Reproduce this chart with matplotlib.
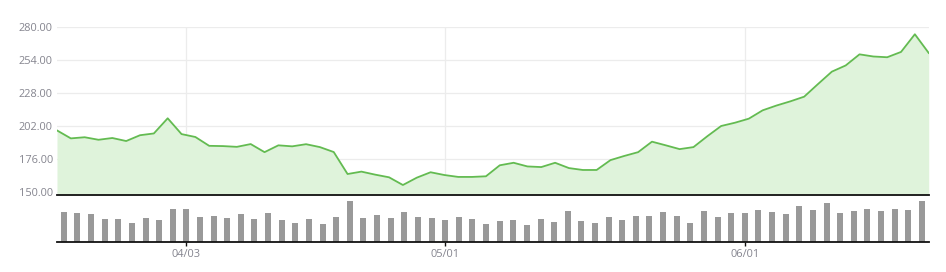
import numpy as np
import matplotlib
matplotlib.use("Agg")
import matplotlib.pyplot as plt
from matplotlib.ticker import FormatStrFormatter

# ---------------------------------------------------------
# DATA
# ---------------------------------------------------------

price = [198.4, 192.1, 193.0, 191.0, 192.4, 190.0, 194.6, 196.0, 208.0, 195.5,
         193.2, 186.2, 186.0, 185.4, 187.6, 181.2, 186.6, 185.8, 187.5, 185.2,
         181.3, 163.9, 165.8, 163.4, 161.3, 155.2, 161.0, 165.3, 163.1, 161.6,
         161.6, 162.1, 170.8, 172.8, 169.9, 169.4, 172.8, 168.6, 167.1, 167.1,
         174.9, 178.2, 181.2, 189.5, 186.6, 183.6, 185.2, 193.8, 201.9, 204.5,
         207.7, 214.3, 218.1, 221.4, 225.1, 235.1, 244.9, 249.8, 258.6, 256.9,
         256.3, 260.5, 274.5, 259.7]

volume = [30.1, 29.5, 28.1, 23.3, 23.6, 19.5, 24.6, 22.0, 33.3, 33.3,
          25.3, 26.3, 24.6, 28.3, 23.3, 29.3, 22.6, 19.3, 23.3, 18.3,
          25.3, 41.3, 24.6, 27.3, 24.6, 30.0, 25.3, 24.6, 22.0, 25.6,
          23.6, 18.6, 21.6, 22.6, 17.6, 23.6, 20.6, 31.3, 21.6, 19.6,
          25.0, 22.0, 26.8, 26.3, 30.5, 26.6, 19.5, 31.6, 25.3, 29.5,
          29.5, 32.3, 30.1, 28.6, 36.3, 32.3, 39.3, 29.5, 31.6, 33.3,
          31.3, 33.3, 32.3, 41.3]

tick_index = [9, 28, 50]
tick_labels = ["04/03", "05/01", "06/01"]

y_ticks = [150, 176, 202, 228, 254, 280]

# ---------------------------------------------------------
# STYLE
# ---------------------------------------------------------

W, H = 946, 272
LEFT, RIGHT = 57, 928.7
LINE_C = "#63bb51"
FILL_C = "#dff3db"
BAR_C = "#999999"
GRID_C = "#ececec"
TEXT_C = "#85858f"
FS = 11 * 72 / 100

plt.rcParams["font.family"] = ["Open Sans", "DejaVu Sans"]

fig = plt.figure(figsize=(W / 100, H / 100), dpi=100)


def px_axes(left, top, right, bottom):
    return fig.add_axes([left / W, 1 - bottom / H, (right - left) / W, (bottom - top) / H])


n = len(price)
x_line = np.arange(n)
x_bar = np.arange(len(volume)) + 0.5

# ---------------------------------------------------------
# PRICE PANEL
# ---------------------------------------------------------

ax = px_axes(LEFT, 27.3, RIGHT, 195)
ax.set_xlim(0, n - 1)
ax.set_ylim(147.3, 280)

for yv in y_ticks:
    ax.axhline(yv, color=GRID_C, lw=0.9, zorder=0)
for k in tick_index:
    xv = (k + 0.5) * (n - 1) / len(volume)
    ax.plot([xv, xv], [150, 280], color=GRID_C, lw=0.9, zorder=0)

ax.fill_between(x_line, price, 147.3, color=FILL_C, lw=0, zorder=1)
ax.plot(x_line, price, color=LINE_C, lw=1.3, zorder=2)

ax.set_yticks(y_ticks)
ax.yaxis.set_major_formatter(FormatStrFormatter("%.2f"))
ax.tick_params(axis="y", length=0, pad=3, labelsize=FS, labelcolor=TEXT_C)
ax.set_xticks([])
for s in ["top", "right", "left"]:
    ax.spines[s].set_visible(False)
ax.spines["bottom"].set_color("#111111")
ax.spines["bottom"].set_linewidth(1.3)

# ---------------------------------------------------------
# VOLUME PANEL
# ---------------------------------------------------------

bx = px_axes(LEFT, 197, RIGHT, 242.3)
bx.set_xlim(0, len(volume))
bx.set_ylim(0, 45.3)
bx.bar(x_bar, volume, width=0.44, color=BAR_C, lw=0)

bx.set_xticks([k + 0.5 for k in tick_index])
bx.set_xticklabels(tick_labels)
bx.tick_params(axis="x", length=3, width=1, color="#111111", pad=2,
               labelsize=FS, labelcolor=TEXT_C)
bx.set_yticks([])
for s in ["top", "right", "left"]:
    bx.spines[s].set_visible(False)
bx.spines["bottom"].set_color("#111111")
bx.spines["bottom"].set_linewidth(1.3)

fig.savefig("out.png", dpi=100)
